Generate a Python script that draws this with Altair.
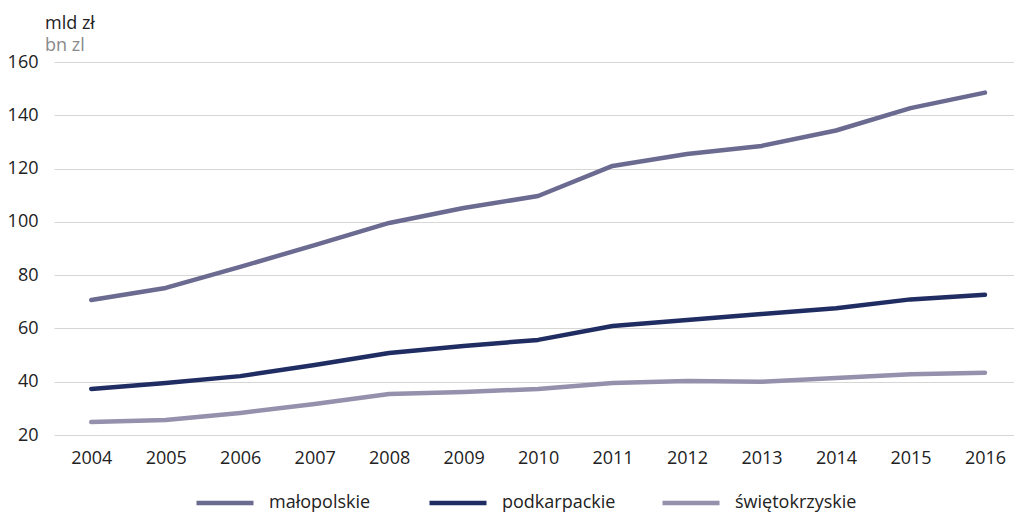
import altair as alt
import pandas as pd

years = list(range(2004, 2017))
malopolskie = [70.7, 75.2, 83.1, 91.3, 99.6, 105.2, 109.7, 121.0, 125.5, 128.5, 134.3, 142.7, 148.5]
podkarpackie = [37.3, 39.5, 42.1, 46.3, 50.8, 53.4, 55.7, 60.9, 63.2, 65.4, 67.6, 70.9, 72.6]
swietokrzyskie = [24.9, 25.6, 28.3, 31.6, 35.4, 36.1, 37.3, 39.5, 40.3, 40.0, 41.4, 42.8, 43.4]
series_names = ["małopolskie", "podkarpackie", "świętokrzyskie"]
series_colors = ["#6b6a90", "#1f2d63", "#9590ac"]
y_ticks = [20, 40, 60, 80, 100, 120, 140, 160]

rows = []
for name, vals in zip(series_names, [malopolskie, podkarpackie, swietokrzyskie]):
    for yr, v in zip(years, vals):
        rows.append({"rok": yr, "wartosc": v, "region": name})
df = pd.DataFrame(rows)

FONT = "Open Sans"

chart = alt.Chart(df).mark_line(strokeWidth=4.5, strokeCap="round", strokeJoin="round").encode(
    x=alt.X("rok:Q",
            scale=alt.Scale(domain=[2003.5, 2016.39], nice=False, zero=False),
            axis=alt.Axis(values=years, format="d", title=None, grid=False, domain=False,
                          ticks=False, labelPadding=14, labelFontSize=18, labelColor="#222",
                          labelFont=FONT)),
    y=alt.Y("wartosc:Q",
            scale=alt.Scale(domain=[20, 160], nice=False, zero=False),
            axis=alt.Axis(values=y_ticks, title=None, grid=True, gridColor="#d6d6d6",
                          gridWidth=1, domain=False, ticks=False, labelPadding=16,
                          labelFontSize=18, labelColor="#222", labelFont=FONT)),
    color=alt.Color("region:N",
                    scale=alt.Scale(domain=series_names, range=series_colors),
                    legend=alt.Legend(title=None, orient="none", direction="horizontal",
                                      legendX=140, legendY=410, symbolType="stroke",
                                      symbolSize=3249, symbolStrokeWidth=4.5,
                                      labelFontSize=18, labelFont=FONT, labelColor="#222",
                                      labelOffset=13, columnPadding=29, gridAlign="all",
                                      padding=0)),
).properties(
    width=960,
    height=373,
    autosize="none",
    background="white",
    padding={"left": 54, "top": 62, "right": 0, "bottom": 78},
    title=alt.TitleParams(text="mld zł", subtitle="bn zl", anchor="start", frame="group",
                          align="left", dx=-9, offset=-2, fontSize=18, subtitleFontSize=18,
                          font=FONT, subtitleFont=FONT, fontWeight="normal",
                          color="#222", subtitleColor="#8a8a8a", subtitlePadding=4),
).configure_view(stroke=None)

chart.save("out.html", embed_options={"renderer": "svg", "actions": False})
